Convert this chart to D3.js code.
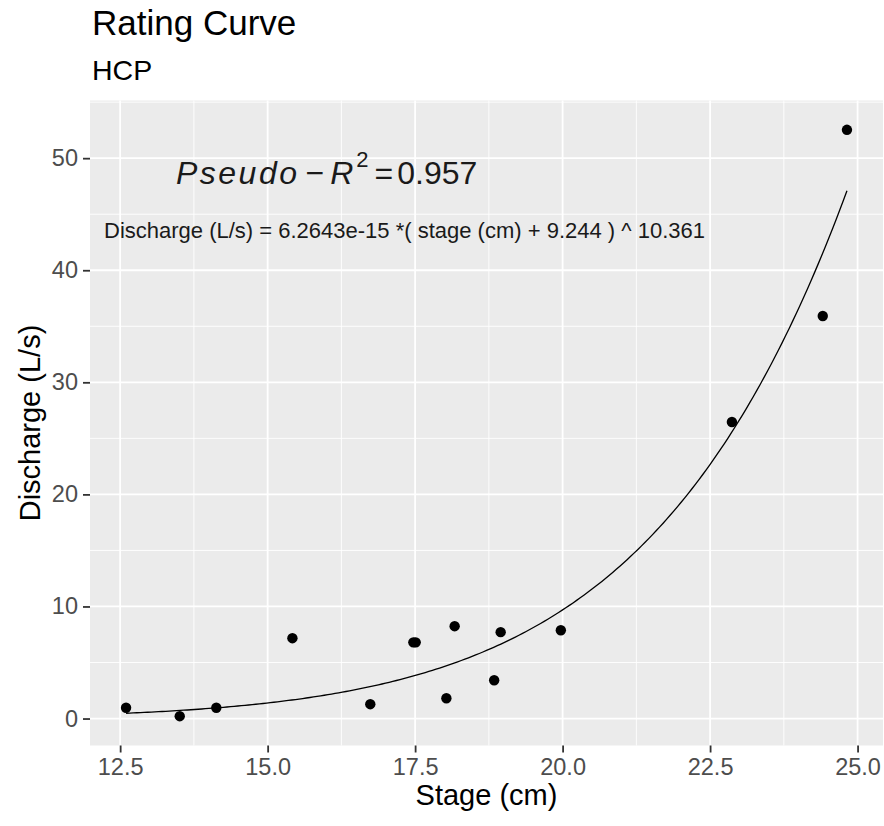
<!DOCTYPE html>
<html lang="en">
<head>
  <meta charset="UTF-8" />
  <title>Rating Curve</title>
  <script src="https://d3js.org/d3.v7.min.js"></script>
  <style>
    html, body {
      margin: 0;
      padding: 0;
      background: #fff;
      overflow: hidden;
    }
    svg text {
      font-family: Arial, "Liberation Sans", sans-serif;
    }
  </style>
</head>
<body>
  <div id="chart"></div>

  <script>
    const stage = [12.60, 13.51, 14.13, 15.42, 16.74, 17.47, 17.51, 18.03, 18.17, 18.84, 18.95, 19.97, 22.87, 24.41, 24.82];
    const discharge = [0.96, 0.21, 0.96, 7.17, 1.28, 6.80, 6.80, 1.81, 8.24, 3.42, 7.71, 7.88, 26.46, 35.92, 52.53];

    // Fitted power law: Q = a * (h + h0) ^ b
    const coefA = 6.2643e-15;
    const offsetH0 = 9.244;
    const expB = 10.361;
    const pseudoR2 = "0.957";

    const xTicks = [12.5, 15.0, 17.5, 20.0, 22.5, 25.0];
    const yTicks = [0, 10, 20, 30, 40, 50];

    const width = 884, height = 826;
    const panel = { left: 90, right: 883, top: 100.5, bottom: 745.5 };

    const svg = d3.select("#chart").append("svg")
      .attr("width", width)
      .attr("height", height);

    // ggplot style 5% expansion on both axes
    function expand(ext) {
      const pad = (ext[1] - ext[0]) * 0.05;
      return [ext[0] - pad, ext[1] + pad];
    }

    const x = d3.scaleLinear()
      .domain(expand(d3.extent(stage)))
      .range([panel.left, panel.right]);
    const y = d3.scaleLinear()
      .domain(expand(d3.extent(discharge)))
      .range([panel.bottom, panel.top]);

    // minor breaks sit halfway between the majors
    function minors(ticks, dom) {
      const step = ticks[1] - ticks[0];
      const out = [];
      for (let v = ticks[0] - step / 2; v <= dom[1]; v += step) {
        if (v >= dom[0]) out.push(v);
      }
      return out;
    }

    // panel background
    svg.append("rect")
      .attr("x", panel.left).attr("y", panel.top)
      .attr("width", panel.right - panel.left)
      .attr("height", panel.bottom - panel.top)
      .attr("fill", "#EBEBEB");

    const grid = svg.append("g");
    grid.selectAll(".xminor").data(minors(xTicks, x.domain())).enter().append("line")
      .attr("x1", d => x(d)).attr("x2", d => x(d))
      .attr("y1", panel.top).attr("y2", panel.bottom)
      .attr("stroke", "#fff").attr("stroke-width", 0.9);
    grid.selectAll(".yminor").data(minors(yTicks, y.domain())).enter().append("line")
      .attr("y1", d => y(d)).attr("y2", d => y(d))
      .attr("x1", panel.left).attr("x2", panel.right)
      .attr("stroke", "#fff").attr("stroke-width", 0.9);
    grid.selectAll(".xmajor").data(xTicks).enter().append("line")
      .attr("x1", d => x(d)).attr("x2", d => x(d))
      .attr("y1", panel.top).attr("y2", panel.bottom)
      .attr("stroke", "#fff").attr("stroke-width", 1.8);
    grid.selectAll(".ymajor").data(yTicks).enter().append("line")
      .attr("y1", d => y(d)).attr("y2", d => y(d))
      .attr("x1", panel.left).attr("x2", panel.right)
      .attr("stroke", "#fff").attr("stroke-width", 1.8);

    // axes
    const xAxis = svg.append("g")
      .attr("transform", `translate(0,${panel.bottom})`)
      .call(d3.axisBottom(x).tickValues(xTicks).tickFormat(d3.format(".1f")).tickSize(7).tickPadding(6));
    const yAxis = svg.append("g")
      .attr("transform", `translate(${panel.left},0)`)
      .call(d3.axisLeft(y).tickValues(yTicks).tickFormat(d3.format("d")).tickSize(7).tickPadding(5));

    [xAxis, yAxis].forEach(g => {
      g.select(".domain").remove();
      g.selectAll(".tick line").attr("stroke", "#333").attr("stroke-width", 1.8);
      g.selectAll(".tick text")
        .attr("fill", "#4D4D4D")
        .style("font-size", "23.5px")
        .style("font-family", "Arial, 'Liberation Sans', sans-serif");
    });

    // fitted curve between the lowest and highest gauged stage
    const hRange = d3.extent(stage);
    const curveH = d3.range(0, 201).map(i => hRange[0] + (hRange[1] - hRange[0]) * i / 200);
    const curve = curveH.map(h => [h, coefA * Math.pow(h + offsetH0, expB)]);

    svg.append("path")
      .datum(curve)
      .attr("fill", "none")
      .attr("stroke", "#000")
      .attr("stroke-width", 1.3)
      .attr("d", d3.line().x(d => x(d[0])).y(d => y(d[1])));

    // points
    svg.append("g").selectAll("circle")
      .data(stage.map((h, i) => [h, discharge[i]]))
      .enter().append("circle")
      .attr("cx", d => x(d[0]))
      .attr("cy", d => y(d[1]))
      .attr("r", 5.2)
      .attr("fill", "#000");

    // Pseudo-R2 annotation
    const r2 = svg.append("text")
      .attr("x", x(16.0))
      .attr("y", y(47.7))
      .attr("text-anchor", "middle")
      .attr("fill", "#1a1a1a")
      .style("font-size", "32px");
    r2.append("tspan").attr("font-style", "italic").attr("letter-spacing", 2.5).text("Pseudo");
    r2.append("tspan").attr("dx", 6).text("\u2212");
    r2.append("tspan").attr("dx", 6).attr("font-style", "italic").text("R");
    r2.append("tspan").attr("dx", 3).attr("dy", -17).style("font-size", "22px").text("2");
    r2.append("tspan").attr("dx", 6).attr("dy", 17).text("=");
    r2.append("tspan").attr("dx", 4).text(pseudoR2);

    // equation annotation
    svg.append("text")
      .attr("x", x(17.32))
      .attr("y", y(43.6))
      .attr("dy", "0.35em")
      .attr("text-anchor", "middle")
      .attr("fill", "#1a1a1a")
      .style("font-size", "22px")
      .text(`Discharge (L/s) = ${coefA.toExponential(4)} *( stage (cm) + ${offsetH0} ) ^ ${expB}`);

    // titles
    svg.append("text")
      .attr("x", 92).attr("y", 35)
      .attr("fill", "#000")
      .style("font-size", "35px")
      .text("Rating Curve");
    svg.append("text")
      .attr("x", 92).attr("y", 80)
      .attr("fill", "#000")
      .style("font-size", "28.5px")
      .text("HCP");

    svg.append("text")
      .attr("x", (panel.left + panel.right) / 2)
      .attr("y", 805)
      .attr("text-anchor", "middle")
      .attr("fill", "#000")
      .style("font-size", "29px")
      .text("Stage (cm)");
    svg.append("text")
      .attr("transform", `translate(40,${(panel.top + panel.bottom) / 2}) rotate(-90)`)
      .attr("text-anchor", "middle")
      .attr("fill", "#000")
      .style("font-size", "29px")
      .text("Discharge (L/s)");
  </script>
</body>
</html>
